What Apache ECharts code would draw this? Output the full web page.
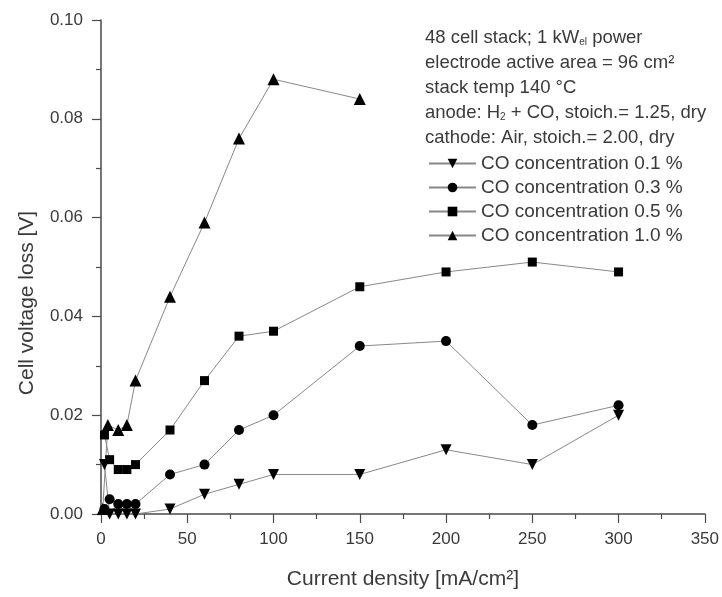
<!DOCTYPE html>
<html><head><meta charset="utf-8">
<script src="https://cdn.jsdelivr.net/npm/echarts@6/dist/echarts.min.js"></script>
<style>html,body{margin:0;padding:0;background:#fff}#c{width:722px;height:597px}</style>
</head><body><div id="c"></div>
<script>
const seriesNames = ['CO concentration 0.1 %','CO concentration 0.3 %','CO concentration 0.5 %','CO concentration 1.0 %'];
const x01 = [2, 5, 10, 15, 20, 40, 60, 80, 100, 150, 200, 250, 300];
const y01 = [0.010, 0.000, 0.000, 0.000, 0.000, 0.001, 0.004, 0.006, 0.008, 0.008, 0.013, 0.010, 0.020];
const x03 = [2, 5, 10, 15, 20, 40, 60, 80, 100, 150, 200, 250, 300];
const y03 = [0.001, 0.003, 0.002, 0.002, 0.002, 0.008, 0.010, 0.017, 0.020, 0.034, 0.035, 0.018, 0.022];
const x05 = [2, 5, 10, 15, 20, 40, 60, 80, 100, 150, 200, 250, 300];
const y05 = [0.016, 0.011, 0.009, 0.009, 0.010, 0.017, 0.027, 0.036, 0.037, 0.046, 0.049, 0.051, 0.049];
const x10 = [1, 4, 10, 15, 20, 40, 60, 80, 100, 150];
const y10 = [0.001, 0.018, 0.017, 0.018, 0.027, 0.044, 0.059, 0.076, 0.088, 0.084];
const xTicks = [0, 50, 100, 150, 200, 250, 300, 350];
const yTicks = [0.00, 0.02, 0.04, 0.06, 0.08, 0.10];
const notes = [
  '48 cell stack; 1 kW{sub|el} power',
  'electrode active area = 96 cm²',
  'stack temp 140 °C',
  'anode: H{sub|2} + CO, stoich.= 1.25, dry',
  'cathode: Air, stoich.= 2.00, dry'
];

const zip = (xs, ys) => xs.map((x, i) => [x, ys[i]]);
const FONT = '"Liberation Sans", Arial, sans-serif';
const TXT = '#3a3a3a';
const AX = '#4a4a4a';
const symbols = [['triangle', 180, 11], ['circle', 0, 10], ['rect', 0, 9], ['triangle', 0, 12]];
const datas = [zip(x01, y01), zip(x03, y03), zip(x05, y05), zip(x10, y10)];

const chart = echarts.init(document.getElementById('c'), null, {renderer: 'canvas'});
chart.setOption({
  animation: false,
  backgroundColor: '#fff',
  grid: {left: 101, right: 16, top: 20, bottom: 83, containLabel: false},
  xAxis: {
    type: 'value', min: xTicks[0], max: xTicks[xTicks.length - 1], interval: 50,
    name: 'Current density [mA/cm²]', nameLocation: 'middle', nameGap: 55,
    nameTextStyle: {fontFamily: FONT, fontSize: 21, color: TXT},
    axisLine: {show: true, onZero: false, lineStyle: {color: AX, width: 1.5}},
    axisTick: {show: true, inside: false, length: 9, lineStyle: {color: AX, width: 1.2}},
    minorTick: {show: true, splitNumber: 2, length: 5, lineStyle: {color: AX, width: 1.2}},
    axisLabel: {fontFamily: FONT, fontSize: 17, color: TXT, margin: 17},
    splitLine: {show: false}
  },
  yAxis: {
    type: 'value', min: yTicks[0], max: yTicks[yTicks.length - 1], interval: 0.02,
    name: 'Cell voltage loss [V]', nameLocation: 'middle', nameGap: 63,
    nameTextStyle: {fontFamily: FONT, fontSize: 21, color: TXT, padding: [0, 72, 0, 0]},
    axisLine: {show: true, onZero: false, lineStyle: {color: AX, width: 1.5}},
    axisTick: {show: true, inside: false, length: 9, lineStyle: {color: AX, width: 1.2}},
    minorTick: {show: true, splitNumber: 2, length: 5, lineStyle: {color: AX, width: 1.2}},
    axisLabel: {fontFamily: FONT, fontSize: 17, color: TXT, margin: 18,
      formatter: v => v.toFixed(2)},
    splitLine: {show: false}
  },
  legend: {
    orient: 'vertical', left: 423, top: 149, itemGap: 5,
    itemWidth: 47, itemHeight: 12,
    textStyle: {fontFamily: FONT, fontSize: 19, color: TXT},
    data: seriesNames
  },
  graphic: notes.map((t, i) => ({
    type: 'text', x: 425, y: 38 + i * 25,
    style: {
      text: t, fontFamily: FONT, fontSize: 18.5, fill: TXT, verticalAlign: 'middle',
      rich: {sub: {fontSize: 10, fontFamily: FONT, fill: TXT, verticalAlign: 'bottom', padding: [8, 0, 0, 0]}}
    }
  })),
  series: datas.map((d, i) => ({
    type: 'line', name: seriesNames[i], data: d,
    symbol: symbols[i][0], symbolRotate: symbols[i][1], symbolSize: symbols[i][2],
    showAllSymbol: true,
    lineStyle: {color: '#888', width: 1},
    itemStyle: {color: '#000', borderWidth: 0},
    clip: false, z: 3
  }))
});
</script></body></html>
